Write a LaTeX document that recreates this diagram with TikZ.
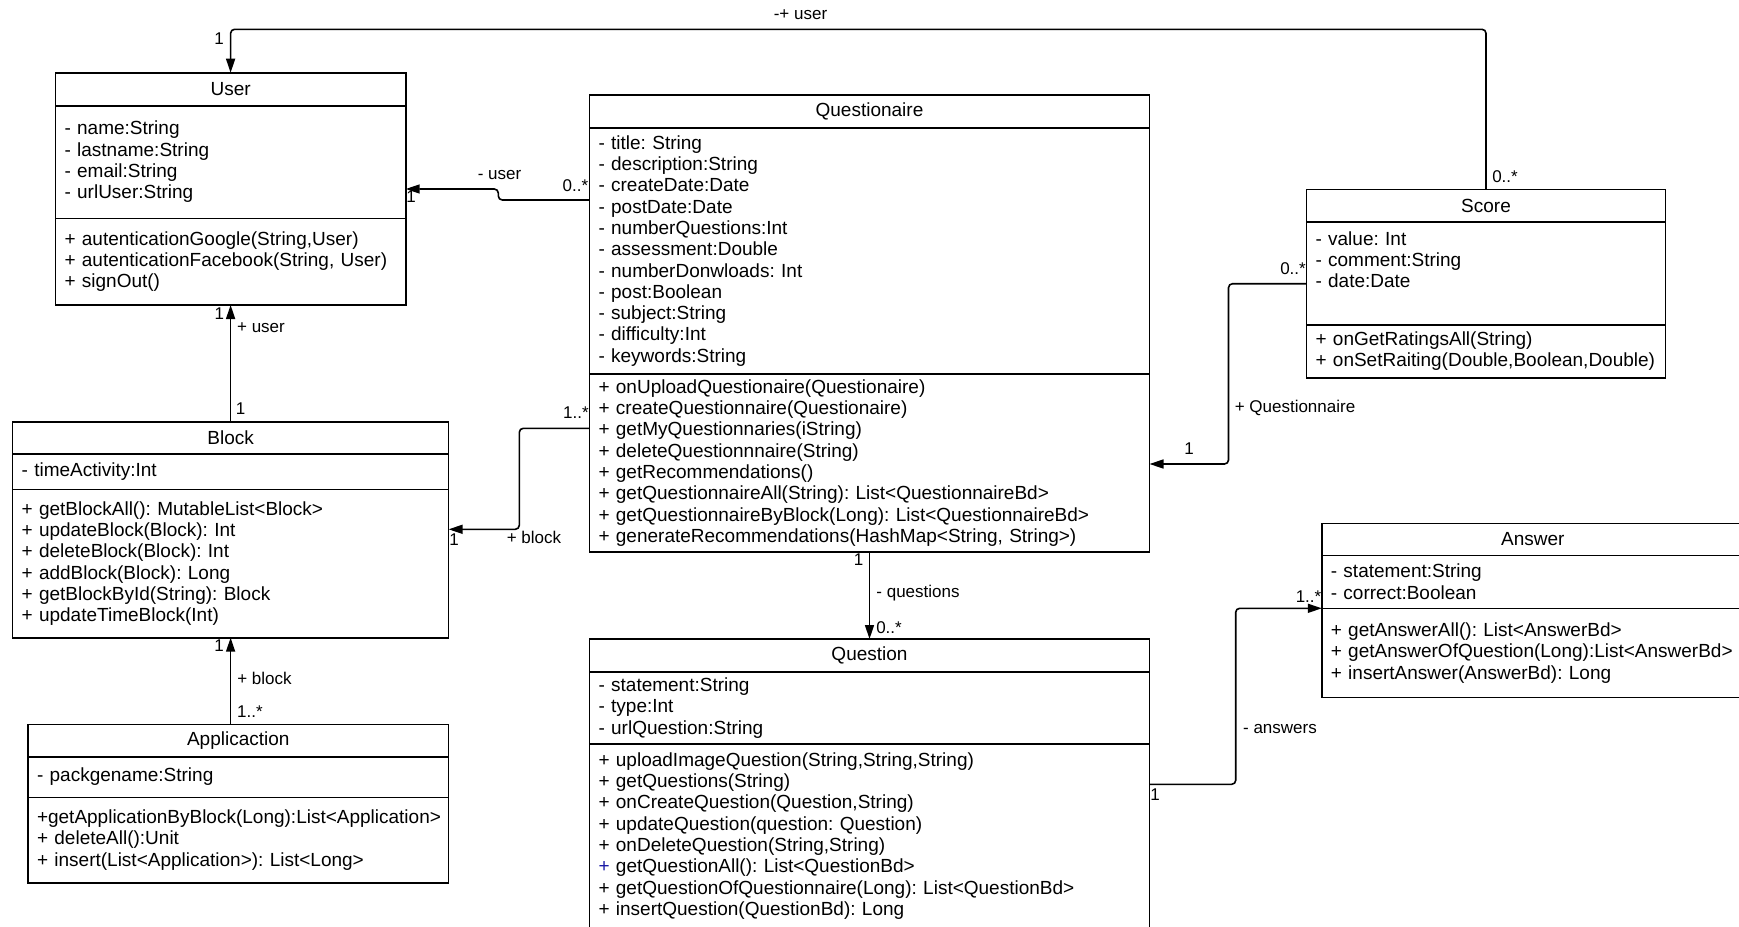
\documentclass[tikz,border=0pt]{standalone}
\usepackage{fontspec}
\setmainfont{Liberation Sans}
\usetikzlibrary{arrows.meta,positioning}
\newcommand\clsfont{\fontsize{9.5pt}{10.65pt}\selectfont\frenchspacing}
\newcommand\lblfont{\fontsize{8.5pt}{10pt}\selectfont\frenchspacing}
\definecolor{plusblue}{RGB}{25,25,165}
\tikzset{
	classpart/.style={draw, line width=0.8pt, align=left, text width=#1, inner xsep=4.5pt, inner ysep=0pt, outer sep=0pt, font=\clsfont},
	classhead/.style={classpart=#1, align=center},
	assoc/.style={-{Triangle[length=7pt,width=4.5pt]}, line width=0.8pt, rounded corners=2pt},
	mult/.style={inner sep=0pt, font=\lblfont}
}

\begin{document}
\begin{tikzpicture}[x=0.5pt, y=-0.5pt, node distance=0pt]
	\useasboundingbox (0,0) rectangle (1739,926);
	\clip (0,0) rectangle (1739,926);
	% classes
	\node[classhead=166.1pt, minimum height=16.5pt, anchor=north west] (userT) at (55.5,72.7) {User};
	\node[classpart=166.1pt, minimum height=56.3pt, below=of userT] (userA) {- name:String\\- lastname:String\\- email:String\\- urlUser:String};
	\node[classpart=166.1pt, minimum height=43.35pt, below=of userA] (userM) {+ autenticationGoogle(String,User)\\+ autenticationFacebook(String, User)\\+ signOut()};

	\node[classhead=271pt, minimum height=16.35pt, anchor=north west] (questT) at (589.5,95) {Questionaire};
	\node[classpart=271pt, minimum height=123.15pt, below=of questT] (questA) {- title: String\\- description:String\\- createDate:Date\\- postDate:Date\\- numberQuestions:Int\\- assessment:Double\\- numberDonwloads: Int\\- post:Boolean\\- subject:String\\- difficulty:Int\\- keywords:String};
	\node[classpart=271pt, minimum height=88.85pt, below=of questA] (questM) {+ onUploadQuestionaire(Questionaire)\\+ createQuestionnaire(Questionaire)\\+ getMyQuestionnaries(iString)\\+ deleteQuestionnnaire(String)\\+ getRecommendations()\\+ getQuestionnaireAll(String): List<QuestionnaireBd>\\+ getQuestionnaireByBlock(Long): List<QuestionnaireBd>\\+ generateRecommendations(HashMap<String, String>)};

	\node[classhead=170.5pt, minimum height=16.2pt, anchor=north west] (scoreT) at (1306.5,189.3) {Score};
	\node[classpart=170.5pt, minimum height=51.65pt, below=of scoreT] (scoreA) {- value: Int\\- comment:String\\- date:Date\\ \strut};
	\node[classpart=170.5pt, minimum height=26.35pt, below=of scoreA] (scoreM) {+ onGetRatingsAll(String)\\+~onSetRaiting(Double,Boolean,Double)};

	\node[classhead=209pt, minimum height=16pt, anchor=north west] (blockT) at (12.6,421.7) {Block};
	\node[classpart=209pt, minimum height=17.8pt, below=of blockT] (blockA) {- timeActivity:Int};
	\node[classpart=209pt, minimum height=74.2pt, below=of blockA] (blockM) {+ getBlockAll(): MutableList<Block>\\+ updateBlock(Block): Int\\+ deleteBlock(Block): Int\\+ addBlock(Block): Long\\+ getBlockById(String): Block\\+ updateTimeBlock(Int)};

	\node[classhead=201.25pt, minimum height=16.2pt, anchor=north west] (appT) at (28,724.3) {Applicaction};
	\node[classpart=201.25pt, minimum height=20.3pt, below=of appT] (appA) {- packgename:String};
	\node[classpart=201.25pt, minimum height=42.7pt, below=of appA] (appM) {+getApplicationByBlock(Long):List<Application>\\+ deleteAll():Unit\\+~insert(List<Application>): List<Long>};

	\node[classhead=271pt, minimum height=16.5pt, anchor=north west] (quesT) at (589.5,639) {Question};
	\node[classpart=271pt, minimum height=36pt, below=of quesT] (quesA) {- statement:String\\- type:Int\\- urlQuestion:String};
	\node[classpart=271pt, minimum height=92pt, below=of quesA] (quesM) {+ uploadImageQuestion(String,String,String)\\+ getQuestions(String)\\+ onCreateQuestion(Question,String)\\+ updateQuestion(question: Question)\\+ onDeleteQuestion(String,String)\\\textcolor{plusblue}{+} getQuestionAll(): List<QuestionBd>\\+ getQuestionOfQuestionnaire(Long): List<QuestionBd>\\+ insertQuestion(QuestionBd): Long};

	\node[classhead=202pt, minimum height=16pt, anchor=north west] (ansT) at (1321.8,523.3) {Answer};
	\node[classpart=202pt, minimum height=26.5pt, below=of ansT] (ansA) {- statement:String\\- correct:Boolean};
	\node[classpart=202pt, minimum height=44.5pt, below=of ansA] (ansM) {+ getAnswerAll(): List<AnswerBd>\\+~getAnswerOfQuestion(Long):List<AnswerBd>\\+ insertAnswer(AnswerBd): Long};

	% associations
	\coordinate (topline) at (0,29.3);
	\draw[assoc] (scoreT.north) -- (scoreT.north |- topline) -| (userT.north);
	\draw[assoc] (questA.west |- 0,200) -- (498.3,200) -- (498.3,189) -- (userA.east |- 0,189);
	\draw[assoc] (questM.west |- 0,428.3) -- (519.3,428.3) -- (519.3,529.3) -- (blockM.east |- 0,529.3);
	\draw[assoc] (blockT.north) -- (userM.south);
	\draw[assoc] (blockM.south |- appT.north) -- (blockM.south);
	\draw[assoc] (questM.south) -- (quesT.north);
	\draw[assoc] (quesM.east |- 0,784.3) -- (1235.7,784.3) |- (ansM.north west);
	\draw[assoc] (scoreA.west |- 0,283.7) -- (1228.5,283.7) |- (questM.east |- 0,464);

	% roles and multiplicities
	\node[mult] (topRole) at (800.5,15) {-+ user};
	\node[mult] (topUser) at (219,39) {1};
	\node[mult] (topScore) at (1505,177) {0..*};
	\node[mult] (quRole) at (499.5,175) {- user};
	\node[mult] (quQuest) at (575.5,185.5) {0..*};
	\node[mult] (quUser) at (411,197) {1};
	\node[mult] (qbQuest) at (576,413) {1..*};
	\node[mult] (qbRole) at (534,537) {+ block};
	\node[mult] (qbBlock) at (454,540) {1};
	\node[mult] (buUser) at (219.3,313.5) {1};
	\node[mult] (buRole) at (261,327.3) {+ user};
	\node[mult] (buBlock) at (240.5,408.3) {1};
	\node[mult] (abBlock) at (219,646) {1};
	\node[mult] (abRole) at (264.5,678.3) {+ block};
	\node[mult] (abApp) at (250,711.7) {1..*};
	\node[mult] (qqQuest) at (858.5,560) {1};
	\node[mult] (qqRole) at (918,593.3) {- questions};
	\node[mult] (qqQues) at (889,627.3) {0..*};
	\node[mult] (qaQues) at (1155,795) {1};
	\node[mult] (qaRole) at (1280,729.3) {- answers};
	\node[mult] (qaAns) at (1308.5,596.7) {1..*};
	\node[mult] (sqScore) at (1293,268.7) {0..*};
	\node[mult] (sqRole) at (1295,408) {+ Questionnaire};
	\node[mult] (sqQuest) at (1189,449) {1};
\end{tikzpicture}
\end{document}
